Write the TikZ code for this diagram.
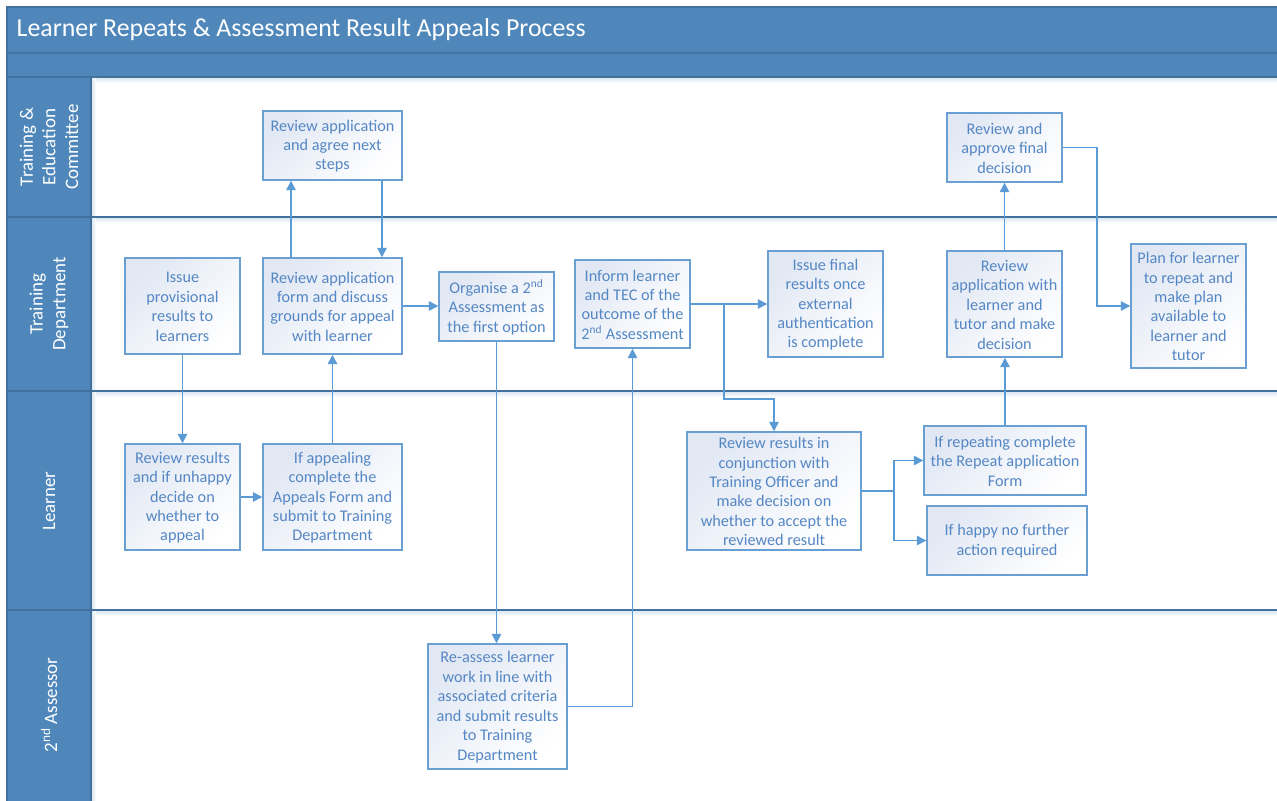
\documentclass[tikz,border=0pt]{standalone}
\usepackage{fontspec}
\setmainfont{Carlito}
\usetikzlibrary{fit,arrows.meta}
\definecolor{band}{HTML}{4F87BB}
\definecolor{laneline}{HTML}{41719C}
\definecolor{boxline}{HTML}{6A9FD4}
\definecolor{boxtext}{HTML}{5587C4}
\definecolor{conncol}{HTML}{5B9BD5}
\definecolor{boxtop}{HTML}{E1E8F4}
\definecolor{shadowcol}{HTML}{D6E2F0}
\tikzset{
  box/.style={draw=boxline, line width=1.1pt, top color=boxtop, bottom color=white, shading angle=45, inner sep=0pt},
  boxtxt/.style={text=boxtext, font=\fontsize{12.2}{14.6}\selectfont, align=center, inner sep=0pt},
  conn/.style={draw=conncol, line width=1.1pt, -{Triangle[length=7pt,width=7pt]}},
  plain/.style={draw=conncol, line width=1.1pt},
  lanelabel/.style={text=white, rotate=90, align=center, font=\fontsize{14.2}{17}\selectfont},
  laneline/.style={draw=laneline, line width=1.1pt},
}
\newcommand\bx[4]{%
  \node[box, fit={(#2) (#3)}] (#1) {};
  \node[boxtxt] (#1t) at ([yshift=-0.5pt]#1.center) {#4};}
\begin{document}
\begin{tikzpicture}[x=0.75pt,y=-0.75pt]
\useasboundingbox (0,0) rectangle (1277,800);
\fill[white] (0,0) rectangle (1277,800);
% bands
\fill[band] (7,7) rectangle (1280,77);
\fill[band] (7,77) rectangle (91,803);
% lane shadows
\foreach \yy in {77,217,391,610}{
  \shade[top color=shadowcol, bottom color=white] (92,\yy) rectangle (1280,\yy+6);
}
\shade[left color=shadowcol, right color=white] (91,77) rectangle (96,803);
\draw[laneline] (7,803) -- (7,7) -- (1280,7);
\draw[draw=laneline!80!band, line width=0.8pt] (7,53) -- (1280,53);
\draw[laneline] (7,77) -- (1280,77);
\draw[laneline] (91,77) -- (91,803);
\foreach \yy in {217,391,610}{
  \draw[laneline] (7,\yy) -- (1280,\yy);
}
% title
\node[text=white, anchor=west, font=\fontsize{19.4}{22}\selectfont] (title) at (12,30) {Learner Repeats \& Assessment Result Appeals Process};
% lane labels
\node[lanelabel] (l1) at (49,147) {Training \&\\Education\\Committee};
\node[lanelabel] (l2) at (49,304) {Training\\Department};
\node[lanelabel] (l3) at (49,501) {Learner};
\node[lanelabel] (l4) at (49,705) {2\textsuperscript{nd} Assessor};
% boxes
\bx{b1}{125,258}{240,354}{Issue\\provisional\\results to\\learners}
\bx{b2}{263,258}{402,354}{Review application\\form and discuss\\grounds for appeal\\with learner}
\bx{b3}{125,444}{240,550}{Review results\\and if unhappy\\decide on\\whether to\\appeal}
\bx{b4}{263,444}{402,550}{If appealing\\complete the\\Appeals Form and\\submit to Training\\Department}
\bx{b5}{263,111}{402,180}{Review application\\and agree next\\steps}
\bx{b6}{439,272}{554,341}{Organise a 2\textsuperscript{nd}\\Assessment as\\the first option}
\bx{b7}{575,260}{690,348}{Inform learner\\and TEC of the\\outcome of the\\2\textsuperscript{nd} Assessment}
\bx{b8}{768,251}{883,357}{Issue final\\results once\\external\\authentication\\is complete}
\bx{b9}{947,113}{1062,182}{Review and\\approve final\\decision}
\bx{b10}{947,251}{1062,357}{Review\\application with\\learner and\\tutor and make\\decision}
\bx{b11}{1131,244}{1246,368}{Plan for learner\\to repeat and\\make plan\\available to\\learner and\\tutor}
\bx{b12}{687,432}{861,550}{Review results in\\conjunction with\\Training Officer and\\make decision on\\whether to accept the\\reviewed result}
\bx{b13}{924,426}{1086,495}{If repeating complete\\the Repeat application\\Form}
\bx{b14}{927,506}{1087,575}{If happy no further\\action required}
\bx{b15}{428,644}{567,769}{Re-assess learner\\work in line with\\associated criteria\\and submit results\\to Training\\Department}
% helper coordinates
\coordinate (u1) at (291,0);
\coordinate (u2) at (382,0);
\coordinate (j1) at (724,399);
\coordinate (j2) at (894,0);
\coordinate (j3) at (1097,0);
% connectors
\draw[conn] (b1.south) -- (b3.north);
\draw[conn] (b3.east) -- (b4.west);
\draw[conn] (b4.north) -- (b2.south);
\draw[conn] (b2.north -| u1) -- (b5.south -| u1);
\draw[conn] (b5.south -| u2) -- (b2.north -| u2);
\draw[conn] (b2.east) -- (b6.west |- b2.east);
\draw[conn] (b6.south) -- (b6.south |- b15.north);
\draw[conn] (b15.east) -| (b7.south);
\draw[conn] (b7.east) -- (b8.west |- b7.east);
\draw[conn] (b7.east -| j1) -- (j1) -| (b12.north);
\draw[plain] (b12.east) -- (b12.east -| j2);
\draw[conn] (b12.east -| j2) |- (b13.west);
\draw[conn] (b12.east -| j2) |- (b14.west);
\draw[conn] (b13.north) -- (b13.north |- b10.south);
\draw[conn] (b10.north) -- (b10.north |- b9.south);
\draw[conn] (b9.east) -- (b9.east -| j3) |- (b11.west);
\end{tikzpicture}
\end{document}
